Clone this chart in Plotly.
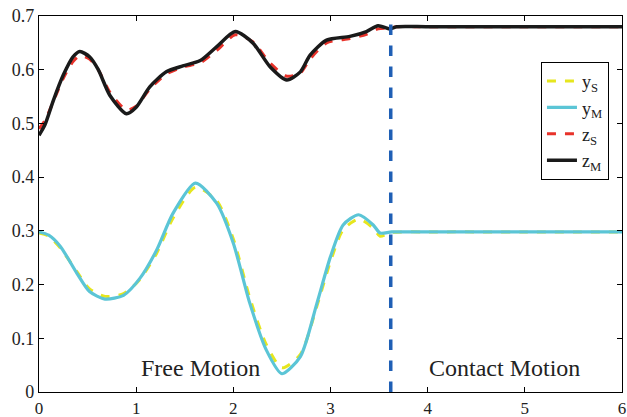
import plotly.graph_objects as go

# ---- data ----
t_z = [0.0, 0.06, 0.15, 0.25, 0.35, 0.42, 0.52, 0.61, 0.73, 0.90, 1.00, 1.14, 1.31, 1.48, 1.66, 1.83, 2.02, 2.20, 2.38, 2.55, 2.69, 2.79, 2.96, 3.20, 3.37, 3.49, 3.61, 3.68, 4.0, 5.0, 6.0]
z_M = [0.478, 0.497, 0.544, 0.590, 0.624, 0.634, 0.624, 0.600, 0.552, 0.518, 0.530, 0.568, 0.596, 0.607, 0.617, 0.643, 0.671, 0.650, 0.605, 0.581, 0.596, 0.627, 0.655, 0.662, 0.671, 0.682, 0.676, 0.680, 0.680, 0.680, 0.680]
z_S = [0.490, 0.505, 0.542, 0.584, 0.615, 0.626, 0.620, 0.600, 0.558, 0.525, 0.532, 0.564, 0.592, 0.605, 0.613, 0.636, 0.665, 0.652, 0.612, 0.588, 0.594, 0.620, 0.650, 0.658, 0.666, 0.676, 0.678, 0.680, 0.680, 0.680, 0.680]

t_y = [0.0, 0.10, 0.22, 0.39, 0.52, 0.68, 0.87, 1.04, 1.21, 1.38, 1.61, 1.83, 2.00, 2.17, 2.34, 2.50, 2.69, 2.86, 3.00, 3.13, 3.29, 3.44, 3.51, 3.63, 4.0, 5.0, 6.0]
y_M = [0.298, 0.292, 0.271, 0.221, 0.187, 0.173, 0.180, 0.212, 0.264, 0.333, 0.389, 0.351, 0.277, 0.165, 0.078, 0.034, 0.066, 0.165, 0.252, 0.311, 0.330, 0.311, 0.296, 0.298, 0.298, 0.298, 0.298]
y_S = [0.296, 0.290, 0.268, 0.224, 0.192, 0.178, 0.183, 0.210, 0.258, 0.324, 0.381, 0.356, 0.285, 0.175, 0.088, 0.045, 0.070, 0.160, 0.243, 0.302, 0.322, 0.305, 0.290, 0.297, 0.298, 0.298, 0.298]

switch_t = 3.62
x_ticks = [0, 1, 2, 3, 4, 5, 6]
y_ticks = [0, 0.1, 0.2, 0.3, 0.4, 0.5, 0.6, 0.7]
y_tick_text = ["0", "0.1", "0.2", "0.3", "0.4", "0.5", "0.6", "0.7"]

FONT = "Liberation Serif"

fig = go.Figure()
fig.add_trace(go.Scatter(x=t_y, y=y_S, mode="lines", name="y<sub>S</sub>",
                         line=dict(color="#e6e61e", width=3, dash="dash", shape="spline", smoothing=0.7)))
fig.add_trace(go.Scatter(x=t_y, y=y_M, mode="lines", name="y<sub>M</sub>",
                         line=dict(color="#5bc5d6", width=3.2, shape="spline", smoothing=0.7)))
fig.add_trace(go.Scatter(x=t_z, y=z_S, mode="lines", name="z<sub>S</sub>",
                         line=dict(color="#e8322a", width=3, dash="dash", shape="spline", smoothing=0.7)))
fig.add_trace(go.Scatter(x=t_z, y=z_M, mode="lines", name="z<sub>M</sub>",
                         line=dict(color="#1a1a1a", width=3.5, shape="spline", smoothing=0.7)))

fig.add_shape(type="line", x0=switch_t, x1=switch_t, y0=0, y1=0.7, xref="x", yref="y",
              line=dict(color="#1f5fb5", width=3.5, dash="dash"))

fig.add_annotation(x=1.66, y=0.045, text="Free Motion", showarrow=False,
                   font=dict(family=FONT, size=24, color="#222"))
fig.add_annotation(x=4.79, y=0.045, text="Contact Motion", showarrow=False,
                   font=dict(family=FONT, size=24, color="#222"))

axis_common = dict(showgrid=False, zeroline=False, showline=True, linecolor="black", linewidth=1.2,
                   ticks="inside", ticklen=5, tickcolor="black", mirror="ticks", automargin=False)
fig.update_xaxes(range=[0, 6], tickvals=x_ticks,
                 tickfont=dict(family=FONT, size=17, color="#222"), **axis_common)
fig.update_yaxes(range=[0, 0.7], tickvals=y_ticks, ticktext=y_tick_text,
                 tickfont=dict(family=FONT, size=18, color="#222"), **axis_common)

fig.update_layout(
    width=627, height=417,
    margin=dict(l=39, r=5, t=16, b=25),
    plot_bgcolor="white", paper_bgcolor="white",
    font=dict(family=FONT, color="#222"),
    legend=dict(x=0.861, y=0.878, xanchor="left", yanchor="top",
                bordercolor="black", borderwidth=1, bgcolor="white",
                font=dict(family=FONT, size=18, color="#222"), tracegroupgap=0),
)

fig.write_html("out.html")
